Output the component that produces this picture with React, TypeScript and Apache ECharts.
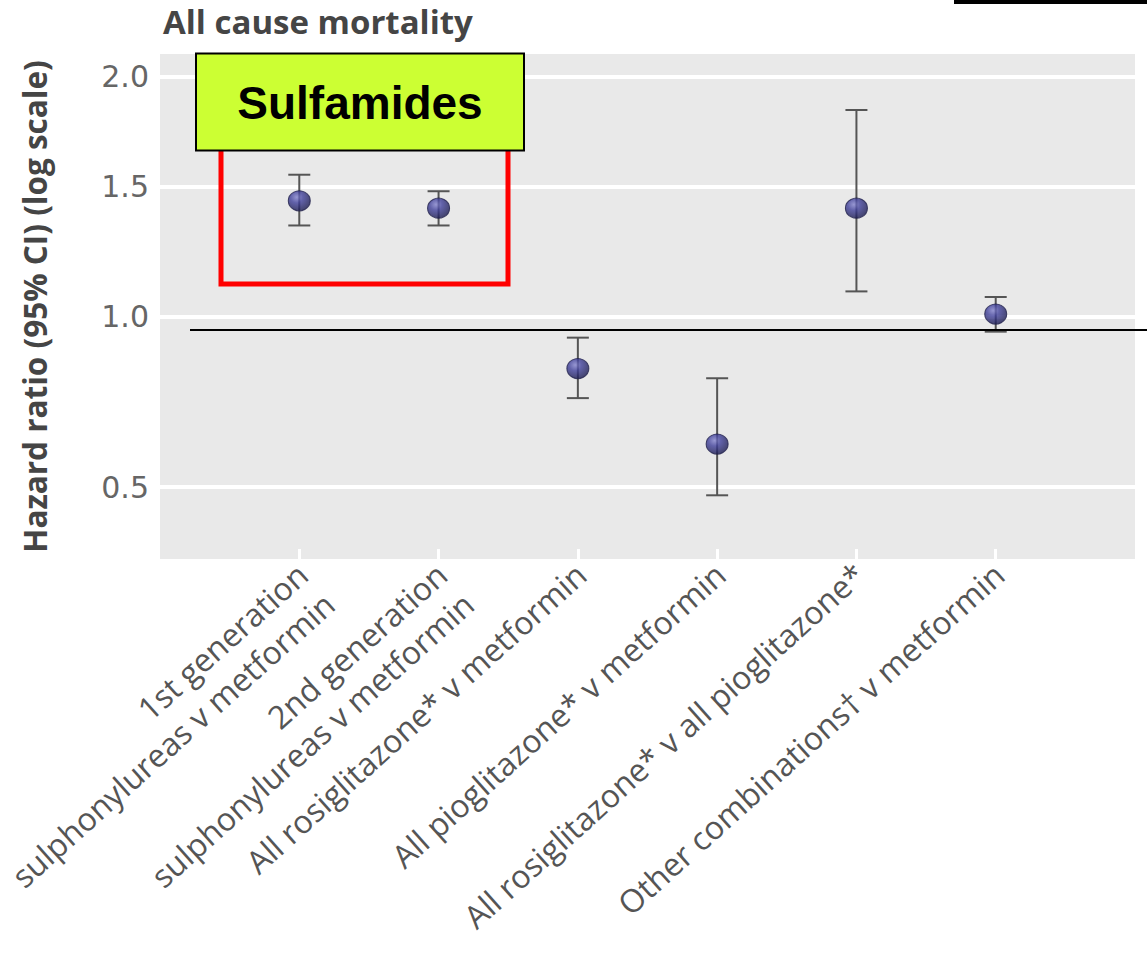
import React, { useEffect, useRef } from "react";
import * as echarts from "echarts";

// Comparisons against metformin (or pioglitazone) for all cause mortality
const comparisons = [
  "1st generation\nsulphonylureas v metformin",
  "2nd generation\nsulphonylureas v metformin",
  "All rosiglitazone* v metformin",
  "All pioglitazone* v metformin",
  "All rosiglitazone* v all pioglitazone*",
  "Other combinations† v metformin",
];
const hazardRatio = [1.44, 1.41, 0.83, 0.61, 1.41, 1.01];
const ciLower = [1.34, 1.34, 0.74, 0.48, 1.09, 0.95];
const ciUpper = [1.55, 1.48, 0.93, 0.8, 1.84, 1.07];
const yTicks = [0.5, 1.0, 1.5, 2.0];
const yRange = [0.34, 2.111];

// The vertical axis is compressed toward the top; values are placed on a square-root scale
const toAxis = (v: number) => Math.sqrt(v);
const fromAxis = (s: number) => s * s;

export default function App() {
  const ref = useRef<HTMLDivElement>(null);

  useEffect(() => {
    document.body.style.margin = "0";
    if (!ref.current) return;
    const chart = echarts.init(ref.current, undefined, { renderer: "svg" });

    // padded categories so the comparisons sit on the inner grid positions
    const axisCats = ["", ...comparisons, ""];

    const markerColor = new echarts.graphic.RadialGradient(0.38, 0.32, 0.7, [
      { offset: 0, color: "#8282cc" },
      { offset: 0.4, color: "#40409a" },
      { offset: 1, color: "#1a1a50" },
    ]);

    chart.setOption({
      animation: false,
      title: {
        text: "All cause mortality",
        left: 158,
        top: 0,
        textStyle: {
          fontFamily: "Open Sans",
          fontWeight: "bold",
          fontSize: 33,
          color: "#454545",
        },
      },
      grid: {
        left: 160,
        right: 12,
        top: 54,
        bottom: 394,
        outerBoundsMode: "none",
        containLabel: false,
        show: true,
        backgroundColor: "#e9e9e9",
        borderWidth: 0,
      },
      xAxis: {
        type: "category",
        data: axisCats,
        boundaryGap: false,
        axisLine: { show: false },
        axisTick: {
          show: true,
          inside: true,
          length: 10,
          interval: (i: number) => i > 0 && i < axisCats.length - 1,
          lineStyle: { color: "#ffffff", width: 3 },
        },
        axisLabel: {
          interval: 0,
          rotate: 42,
          margin: -2,
          verticalAlign: "top",
          align: "right",
          padding: [-9, 6, 0, 0],
          fontFamily: "Open Sans",
          fontSize: 32,
          lineHeight: 40,
          color: "#555555",
        },
        splitLine: { show: false },
      },
      yAxis: {
        type: "value",
        min: toAxis(yRange[0]),
        max: toAxis(yRange[1]),
        name: "Hazard ratio (95% CI) (log scale)",
        nameLocation: "middle",
        nameRotate: 90,
        nameGap: 110,
        nameTextStyle: {
          fontFamily: "Open Sans",
          fontWeight: "bold",
          fontSize: 31.5,
          color: "#454545",
        },
        axisLine: { show: false },
        axisTick: { show: false, customValues: yTicks.map(toAxis) },
        axisLabel: {
          customValues: yTicks.map(toAxis),
          formatter: (s: number) => fromAxis(s).toFixed(1),
          fontFamily: "DejaVu Sans",
          fontSize: 30,
          color: "#666666",
          margin: 11,
        },
        splitLine: { show: true, lineStyle: { color: "#ffffff", width: 4 } },
      },
      series: [
        {
          type: "custom",
          name: "95% CI",
          z: 3,
          data: comparisons.map((_, i) => [i + 1, toAxis(ciLower[i]), toAxis(ciUpper[i])]),
          renderItem: (params: any, api: any) => {
            const x = api.value(0);
            const lo = api.coord([x, api.value(1)]);
            const hi = api.coord([x, api.value(2)]);
            const hw = 11;
            const style = { stroke: "#555555", lineWidth: 2 };
            return {
              type: "group",
              children: [
                { type: "line", shape: { x1: lo[0], y1: lo[1], x2: hi[0], y2: hi[1] }, style },
                { type: "line", shape: { x1: hi[0] - hw, y1: hi[1], x2: hi[0] + hw, y2: hi[1] }, style },
                { type: "line", shape: { x1: lo[0] - hw, y1: lo[1], x2: lo[0] + hw, y2: lo[1] }, style },
              ],
            };
          },
        },
        {
          type: "scatter",
          name: "Hazard ratio",
          z: 4,
          symbol: "circle",
          symbolSize: [22, 20],
          itemStyle: { color: markerColor, borderColor: "#20204c", borderWidth: 1 },
          data: comparisons.map((_, i) => [i + 1, toAxis(hazardRatio[i])]),
        },
      ],
      graphic: [
        {
          type: "rect",
          z: 100,
          shape: { x: 221, y: 120, width: 287, height: 164 },
          style: { fill: "none", stroke: "#ff0000", lineWidth: 5 },
        },
        {
          type: "rect",
          z: 101,
          shape: { x: 196, y: 53.5, width: 328, height: 97 },
          style: { fill: "#ccff33", stroke: "#000000", lineWidth: 2 },
        },
        {
          type: "text",
          z: 102,
          x: 360,
          y: 103,
          style: {
            text: "Sulfamides",
            fontFamily: "Liberation Sans",
            fontWeight: "bold",
            fontSize: 46,
            fill: "#000000",
            align: "center",
            verticalAlign: "middle",
          },
        },
        {
          type: "line",
          z: 100,
          shape: { x1: 190, y1: 330, x2: 1147, y2: 330 },
          style: { stroke: "#000000", lineWidth: 2 },
        },
        {
          type: "rect",
          z: 100,
          shape: { x: 954, y: 0, width: 193, height: 4 },
          style: { fill: "#000000" },
        },
      ],
    });

    return () => chart.dispose();
  }, []);

  return <div ref={ref} style={{ width: 1147, height: 953 }} />;
}
